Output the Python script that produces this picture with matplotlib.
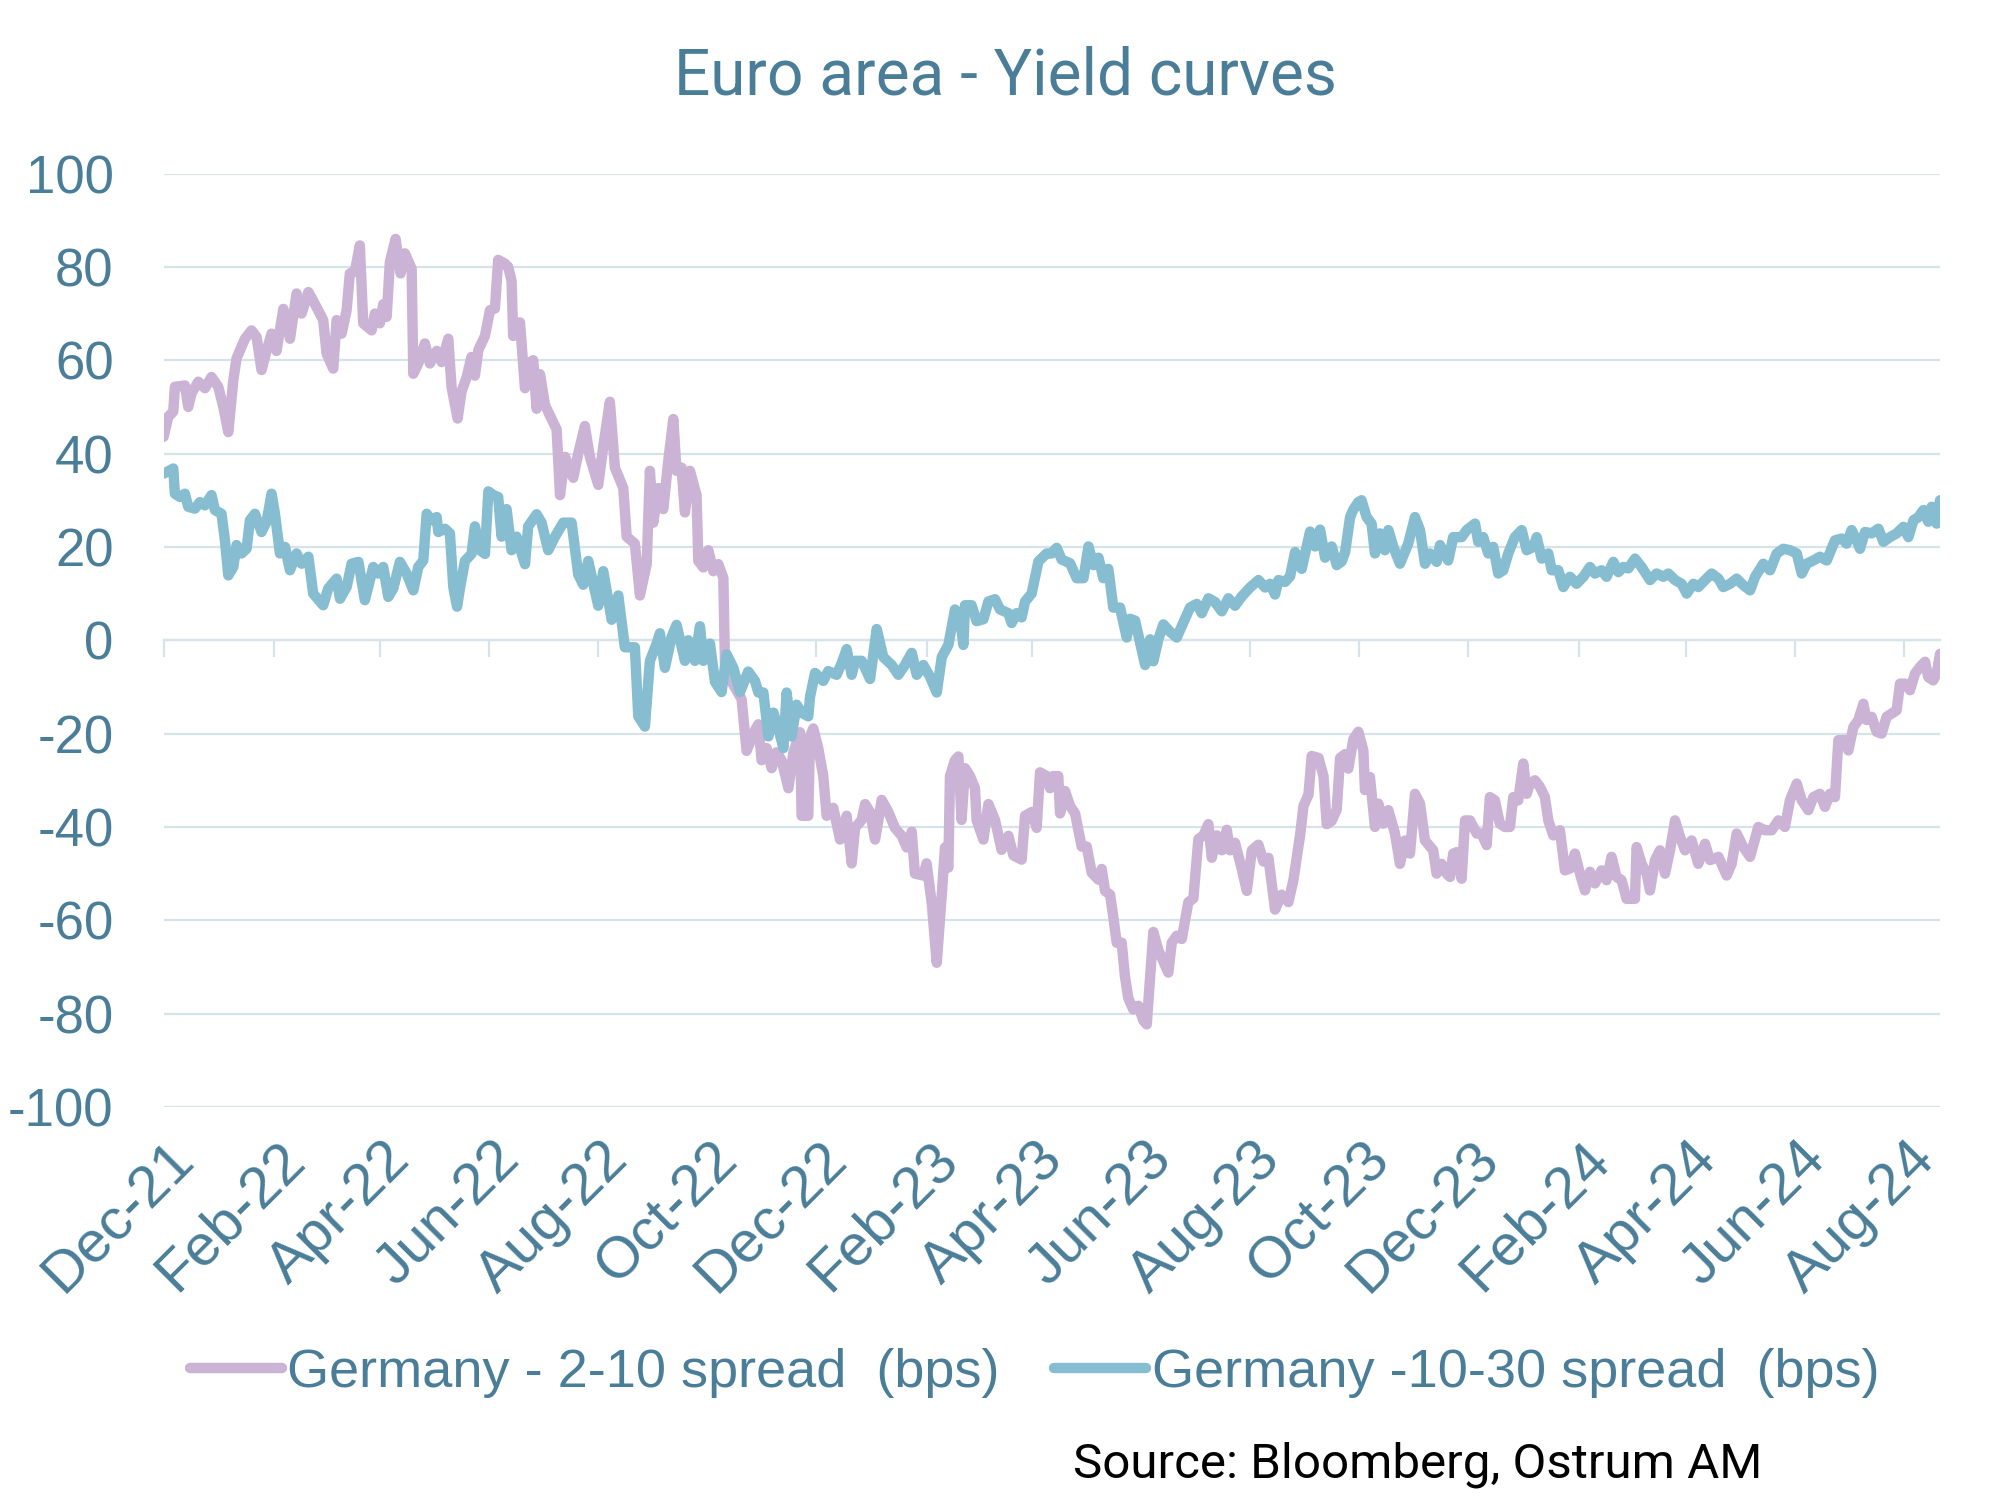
import matplotlib
matplotlib.use('Agg')
from matplotlib import pyplot as plt
from matplotlib.transforms import ScaledTranslation
import matplotlib.dates as mdates
import pandas as pd

plt.rcParams['font.family'] = ['Liberation Sans', 'DejaVu Sans']
plt.rcParams['axes.unicode_minus'] = False

#############################
## DATA
#############################
start_date = pd.Timestamp('2021-12-01')
last_day = 994

# Germany 2-10 spread (bps), x = days since 1 Dec 2021
day_210 = [0, 2.6, 5.4, 6.3, 11.9, 13.8, 15.6, 19.4, 23.1, 26.8, 30.6, 33.4, 36.2, 39, 40.8, 45.5,
           49.2, 52, 54.8, 57.6, 60.4, 63.2, 67, 70.7, 74.4, 77.2, 81, 84.7, 89.3, 91.2, 94.9, 96.8,
           99.6, 102.4, 104.2, 107, 109.8, 111.7, 116.4, 118.2, 121, 122.9, 124.8, 126.6, 129.8,
           132.6, 135, 138.8, 139.7, 142.5, 146.2, 149, 152.8, 155.6, 159.3, 161.1, 164.5, 166.7,
           169.5, 172.3, 174.2, 176.1, 179.8, 182.6, 185.4, 187.2, 191, 192.8, 194.7, 195.6, 199.4,
           202.2, 204, 206.8, 208.7, 210.6, 213.4, 217.1, 219.9, 221.8, 224.6, 229.2, 232, 235.7,
           238.5, 243.2, 246, 249.7, 252.5, 257.2, 259.1, 263.7, 266.5, 270.3, 272.1, 274, 276.8,
           279.6, 282.4, 285.2, 287, 289.8, 291.7, 294.5, 298.2, 299.2, 302, 304.8, 307.6, 310.4,
           313.2, 314.1, 317.8, 323.4, 326.2, 330.9, 332.8, 334.6, 337.4, 340.2, 343, 345.8, 349.6,
           352.4, 356.1, 357, 360.7, 361.7, 363.5, 366.3, 369.1, 371, 374.7, 378.5, 382.2, 385,
           386.9, 390.6, 392.5, 395.3, 398.1, 401.8, 405.5, 409.2, 413, 415.8, 418.6, 420.4, 425.1,
           426.9, 429.8, 432.6, 435.4, 437.2, 439.1, 440, 442.8, 444.7, 446.5, 448.4, 451.2, 454,
           454.9, 458.7, 461.5, 465.2, 468.9, 472.7, 475.5, 480.1, 482, 485.7, 488.5, 490.4, 494.1,
           496, 497.8, 500.6, 501.6, 504.4, 507.2, 510, 513.7, 516.5, 519.3, 523.1, 524.9, 526.8,
           529.6, 531.4, 533.3, 536.1, 537.9, 539.8, 542.6, 545.4, 548.2, 550.1, 551.9, 553.8,
           556.6, 559.4, 562.2, 564.1, 566.9, 569.7, 573.4, 576.2, 579, 581.8, 584.6, 586.5, 589.3,
           592.1, 594.9, 596.7, 599.5, 603.3, 606.1, 608.9, 612.6, 615.4, 618.2, 621.9, 625.6,
           629.4, 632.2, 635.9, 637.8, 640.6, 642.4, 646.2, 649, 650.8, 653.6, 656.4, 658.3, 661.1,
           662.9, 665.7, 668.5, 671.3, 672.2, 675, 677.8, 679.7, 682.5, 685.3, 689, 691.8, 694.6,
           697.4, 700.2, 703, 705.8, 710.4, 712.3, 715.1, 717.9, 719.8, 721.6, 723.5, 726.3, 728.2,
           731, 734.7, 737.5, 740.3, 742.1, 744.9, 747.7, 750.5, 753.3, 755.2, 758, 760.8, 762.7,
           764.5, 767.3, 770.1, 772.9, 774.8, 777.6, 781.3, 784.1, 786.9, 789.7, 792.5, 795.3,
           798.1, 800.9, 804.6, 807.4, 810.2, 813, 815.8, 818.6, 823.3, 824.2, 827, 829.8, 831.7,
           834.5, 837.3, 840.1, 842.9, 845.7, 848.5, 851.3, 855, 858.7, 862.5, 865.3, 870, 874.6,
           877.4, 880.2, 883.9, 887.7, 892.3, 896, 899.8, 903.5, 907.2, 910, 913.8, 916.6, 920.3,
           923.1, 926.8, 929.6, 932.4, 935.2, 937.1, 940.8, 942.7, 945.5, 948.3, 951.1, 952.9,
           955.7, 958.5, 961.3, 964.1, 966.9, 969.7, 971.6, 974.4, 977.2, 980, 982.8, 985.6, 987.4,
           990.2, 992.1, 994]
bps_210 = [43.6, 47.9, 49, 54.3, 54.6, 50, 52.9, 55.4, 54, 56.4, 54.3, 50, 44.6, 55.7, 60.4, 64.6,
           66.4, 65, 57.9, 62, 65.7, 62, 71, 64.6, 74.3, 70, 74.6, 72, 68.6, 61.4, 58.2, 68.6,
           65.7, 70.7, 78.6, 79, 84.6, 67.9, 66.4, 70, 67.9, 72, 69.3, 81, 86,
           78.6, 82.9, 79.6, 57.1, 59.3, 63.6, 59.3, 62, 59.6, 64.6, 54.3, 47.5, 53.3,
           56.3, 60.7, 56.7, 62.2, 65.2, 70.7, 71.1, 81.5, 80.7, 80, 77, 65.2, 68.1,
           54, 59.3, 60, 49.6, 57, 50.4, 47.4, 45.2, 31.1, 39.3, 34.8, 40, 45.9,
           39.3, 33.3, 41.5, 51.1, 37, 32.6, 22.2, 20.7, 9.6, 16.3, 36.3, 25.2, 32.6,
           28.1, 38.5, 47.4, 36.3, 37, 27.4, 36.3, 31.1, 17, 15.6, 19.3, 14.8, 16.3,
           13.3, -5.2, -8.9, -12.6, -23.7, -19.3, -18, -25.7, -23.1, -27.4, -24, -25.7, -31.7,
           -24, -19.7, -37.6, -37.6, -20.6, -18.9, -23.1, -29.1, -37.6, -35.9, -42.7, -37.6, -47.8,
           -40.2, -38.5, -35.1, -36.8, -42.7, -34.2, -36.8, -40.2, -41.9, -44.4, -41, -50, -50.4,
           -47.8, -56.3, -69.1, -54.6, -44.4, -48.7, -29.1, -25.7, -24.9, -38.5, -27.4, -29.1, -31.7,
           -38.5, -42.7, -35.1, -38.5, -44.9, -41.9, -46.1, -47, -37.6, -36.8, -40.2, -28.3, -29.1,
           -31.7, -29.1, -29.1, -37.1, -32.3, -35.5, -37.1, -44.2, -44.2, -49.8, -51.3, -49, -53.7,
           -54.5, -59.3, -64.8, -64.8, -72, -76.7, -79.1, -78.3, -81.5, -82.3, -72.8, -62.5,
           -66.4, -68.8, -71.2, -64.8, -63.3, -64, -56.1, -55.3, -42.6, -41.8, -39.4, -46.6, -41.8,
           -45, -40.6, -45, -43.4, -49, -53.7, -45, -43.8, -47.4, -46.6, -57.7, -54.5,
           -56.1, -51.3, -41.8, -35.5, -33.1, -24.8, -25.2, -29.1, -39.4, -38.7, -36.3, -25.2, -24.4,
           -27.5, -21.2, -19.6, -23.6, -32.1, -29.3, -40, -35, -39.3, -36.4, -41.4, -47.9, -42.9,
           -45.7, -32.9, -35, -42.9, -45, -50, -47.9, -50, -50.7, -45.7, -45.4, -51.1, -38.6,
           -38.6, -41.4, -41.4, -43.9, -33.6, -34.3, -39.3, -40, -40, -33.6, -34.3, -26.4, -32.9,
           -30.7, -30, -31.4, -33.6, -38.6, -41.8, -40.7, -49.3, -48.9, -45.7, -50, -53.6,
           -49.6, -52.1, -49.3, -51.4, -46.4, -50.7, -51.4, -55.4, -55.4, -44.3, -47.9, -50, -53.6,
           -47.1, -45, -50, -45, -38.6, -42.1, -45, -42.9, -47.9, -43.6, -47.1, -46.4, -50.4,
           -47.9, -41.4, -44.3, -46.4, -40, -40.7, -40.7, -38.6, -40, -34.3, -30.7, -34.3, -36.4,
           -33.6, -32.9, -35.7, -32.9, -33.6, -21.4, -21.4, -23.6, -18.6, -17.1, -13.6, -17.1,
           -16.4, -19.6, -20, -16.4, -15.7, -15, -9.3, -9.3, -10.7, -7.1, -5.7, -4.6, -7.9,
           -8.6, -7.1, -2.9]

# Germany 10-30 spread (bps), x = days since 1 Dec 2021
day_1030 = [0, 5.4, 6.3, 9.1, 11.9, 13.8, 17.5, 20.3, 23.1, 26.8, 28.7, 32.4, 34.3, 36.2, 39, 40.8,
            43.6, 46.4, 48.3, 51.1, 54.8, 57.6, 60.4, 62.3, 65.1, 67.9, 70.7, 74.4, 77.2, 81, 83.7,
            89.3, 92.1, 96.8, 98.7, 102.4, 105.2, 109, 112.6, 117.3, 120.1, 122.9, 125.7, 128.5,
            132.2, 136, 139.7, 142.5, 145.3, 147.2, 150, 152.8, 153.7, 157.4, 160.2, 162.1, 164.2,
            165.8, 168.6, 172.3, 174.2, 177, 179.8, 181.7, 184.5, 187.2, 189.1, 191.9, 194.7, 197.5,
            202.2, 204, 208.7, 211.5, 215.2, 219, 223.6, 228.3, 232, 234.8, 237.6, 243.2, 246,
            250.7, 254.4, 258.1, 263.7, 265.6, 269.3, 272.1, 275.9, 277.7, 280.5, 284.2, 287, 291.7,
            293.6, 297.3, 300.1, 302, 305.7, 308.5, 312.2, 315, 318.8, 322.5, 327.1, 330.9, 332.8,
            335.6, 338.4, 341.2, 344, 346.8, 348.6, 351.4, 354.2, 357, 360.7, 361.7, 364.5, 369.1,
            371.9, 376.6, 379.4, 382.2, 385, 386.9, 390.6, 395.3, 399, 402.7, 407.4, 411.1, 414.8,
            418.6, 421.4, 425.1, 428.8, 432.6, 435.4, 439.1, 442.8, 445.6, 447.5, 448.4, 452.1,
            454.9, 458.7, 461.5, 465.2, 468, 472.7, 474.5, 477.3, 480.1, 482, 485.7, 489.5, 494.1,
            496.9, 499.7, 502.5, 507.2, 510.9, 514.7, 517.5, 520.3, 523.1, 525.8, 528.6, 531.4,
            535.2, 537, 538.9, 540.8, 543.6, 546.4, 549.2, 552, 553.8, 556.6, 559.4, 563.2, 566.9,
            570.6, 574.3, 578.1, 580.9, 584.6, 588.3, 592.1, 595.8, 599.5, 603.3, 607.9, 612.6,
            616.3, 619.1, 621.9, 623.8, 627.5, 630.3, 633.1, 636.8, 641.5, 644.3, 647.1, 649.9,
            653.6, 656.4, 659.2, 661.1, 663.9, 665.7, 668.5, 670.3, 673.1, 675.9, 677.8, 680.6,
            683.4, 685.3, 688.1, 691.8, 696.4, 700.2, 703, 705.8, 708.6, 712.3, 714.2, 718.8, 721.6,
            726.3, 729.1, 733.8, 735.6, 738.4, 741.2, 744, 746.8, 749.6, 752.4, 756.1, 759.9, 762.7,
            766.4, 768.3, 771.1, 774.8, 776.7, 780.4, 783.2, 786.9, 790.6, 794.4, 798.1, 800.9,
            804.6, 807.4, 811.2, 814, 816.8, 819.6, 823.3, 827, 831.7, 835.4, 839.2, 842, 845.7,
            849.4, 852.2, 856, 858.7, 862.5, 866.2, 870, 872.7, 876.5, 880.2, 883.9, 887.7, 890.5,
            895.1, 898.9, 902.6, 906.3, 910, 913.8, 916.6, 919.4, 923.1, 926.8, 930.6, 935.2, 939,
            941.7, 944.5, 947.3, 949.2, 952, 955.7, 959.5, 962.3, 966, 969.7, 973.5, 976.3, 979.1,
            981.9, 984.7, 987.4, 989.3, 992.1, 994]
bps_1030 = [35.7, 36.8, 31.4, 30.7, 31.4, 28.6, 28.2, 29.6, 28.9, 31.1, 27.9, 27.1, 21.4, 13.9, 15.7, 20.4,
            18.6, 19.6, 25.7, 27.1, 23.2, 25.4, 31.4, 27.1, 18.6, 20, 15, 18.6, 16.4, 17.9, 10,
            7.5, 11.1, 13.2, 8.9, 11.4, 16.4, 16.8, 8.6, 15.7, 14.3, 15.7, 9.3, 11.1,
            16.8, 14.3, 10.7, 15.7, 17.1, 27.1, 25.7, 26.4, 23.2, 23.9, 22.9, 11.4, 7.2,
            11.1, 17, 18.5, 24.4, 19.3, 18.5, 31.9, 31.1, 30.7, 22.2, 28.1, 19.3, 22.2,
            16.3, 24.4, 27, 25.2, 19.3, 22.2, 25.2, 25.2, 14.1, 11.9, 17, 7.4, 14.8,
            4.4, 9.6, -1.5, -1.5, -16.3, -18.5, -4.4, -0.7, 1.5, -5.9, 0.7, 3.3, -4.4,
            0, -4.4, 3, -4.4, -0.7, -8.9, -11.1, -3, -5.9, -11.1, -6.7, -8.7, -11.2,
            -11.2, -20.6, -15.5, -18.9, -23.1, -11.2, -20.6, -13.8, -15.5, -16.3, -12.1, -7, -8.7,
            -6.6, -7.4, -4.9, -1.9, -7.4, -4.4, -4.4, -8.3, 2.4, -3.6, -5.3, -7.4, -5.3,
            -2.7, -7.4, -5.3, -7.8, -11.2, -3.6, -1, 6.6, 4.9, -1, 7.5, 7.5,
            4.1, 4.5, 8.3, 8.8, 6.6, 5.8, 3.7, 5.8, 4.9, 8.3, 10, 16.9, 18.6,
            18.6, 19.8, 17.3, 16.5, 13.3, 13.3, 20.1, 16.1, 17.7, 13.3, 15.3, 7,
            7, 3.8, 0.6, 4.6, 4.2, -0.6, -5.3, 0.2, -4.5, 0.2, 3.4, 1.8, 0.6,
            3.8, 7, 7.8, 5.8, 9, 8.2, 6.2, 9, 7.4, 9.4, 11.3, 12.9,
            11.3, 12.1, 9.8, 12.9, 12.5, 13.7, 18.9, 15.3, 23.3, 20.1, 23.7, 17.7,
            20.1, 16.1, 16.9, 18.9, 26.4, 28, 29.6, 30, 26.4, 25, 18.6, 22.9,
            19.3, 23.6, 20, 16.4, 20.7, 26.4, 23.6, 16.4, 18.6, 16.8, 20.4, 17.1, 22.1,
            22.1, 23.6, 25, 21.1, 22.1, 18.6, 20, 14.3, 15, 18.6, 22.1, 23.6, 19.3,
            20, 22.1, 17.5, 18.6, 15, 15, 11.4, 13.6, 12.1, 13.6, 15.7, 14.3,
            15, 13.6, 16.8, 14.6, 15.7, 15.4, 17.5, 15.7, 12.9, 14.3, 13.6, 14.3, 12.9,
            12.1, 10, 12.1, 11.4, 12.9, 14.3, 13.2, 11.4, 12.1, 13.2, 11.8, 10.7, 13.6,
            16.4, 15, 18.6, 19.6, 19.3, 18.6, 14.3, 16.4, 17.1, 17.9, 17.1, 21.4, 21.8,
            20.7, 23.6, 21.4, 19.6, 23.2, 22.9, 23.9, 21.1, 22.1, 22.9, 24.3, 22.1, 25.7,
            26.4, 27.9, 25.4, 28.6, 25, 30]

x_labels = ['Dec-21', 'Feb-22', 'Apr-22', 'Jun-22', 'Aug-22', 'Oct-22', 'Dec-22', 'Feb-23', 'Apr-23',
            'Jun-23', 'Aug-23', 'Oct-23', 'Dec-23', 'Feb-24', 'Apr-24', 'Jun-24', 'Aug-24']
y_ticks = [-100, -80, -60, -40, -20, 0, 20, 40, 60, 80, 100]
label_210 = 'Germany - 2-10 spread  (bps)'
label_1030 = 'Germany -10-30 spread  (bps)'

#############################
## STYLE
#############################
text_col = '#4a7d98'
grid_col = '#d6e4ea'
pink = '#cbb3d6'
blue = '#86bdd0'
lw = 7.5

x_210 = start_date + pd.to_timedelta(day_210, unit='D')
x_1030 = start_date + pd.to_timedelta(day_1030, unit='D')
tick_dates = pd.to_datetime(x_labels, format='%b-%y')

fig = plt.figure(figsize=(20.1, 15.09), dpi=100)
ax = fig.add_axes([0.0814, 0.2664, 0.8838, 0.6186])

ax.plot(x_210, bps_210, color=pink, lw=lw, solid_joinstyle='round', solid_capstyle='round', label=label_210)
ax.plot(x_1030, bps_1030, color=blue, lw=lw, solid_joinstyle='round', solid_capstyle='round', label=label_1030)

ax.set_ylim(-100, 100)
ax.set_yticks(y_ticks)
ax.set_xlim(start_date, start_date + pd.Timedelta(days=last_day))
ax.grid(axis='y', color=grid_col, lw=1.6)
ax.set_axisbelow(True)
for s in ax.spines.values():
    s.set_visible(False)

ax.tick_params(axis='y', length=0, pad=36, labelsize=38, labelcolor=text_col)
ax.set_xticks(tick_dates)
ax.set_xticklabels(x_labels, rotation=45, ha='right', va='top', rotation_mode='anchor',
                   fontsize=42, color=text_col)
ax.tick_params(axis='x', length=0, pad=18)
shift = ScaledTranslation(0.03, 0, fig.dpi_scale_trans)
for lbl in ax.get_xticklabels():
    lbl.set_transform(lbl.get_transform() + shift)

# axis line with tick marks at y = 0
zero_ax = ax.secondary_xaxis(0.5)
zero_ax.set_xticks(mdates.date2num(tick_dates))
zero_ax.set_xticklabels([])
zero_ax.tick_params(direction='in', length=12, width=1.6, color=grid_col)
for s in zero_ax.spines.values():
    s.set_color(grid_col)
    s.set_linewidth(1.6)

fig.text(0.5, 0.949, 'Euro area - Yield curves', ha='center', va='center',
         fontsize=46, color=text_col, family='Roboto')

fig.legend(loc='center', bbox_to_anchor=(0.5147, 0.0901), ncol=2, frameon=False,
           fontsize=39, handlelength=1.7, handletextpad=0.1, columnspacing=1.0,
           labelcolor=text_col)

fig.text(0.534, 0.0292, 'Source: Bloomberg, Ostrum AM', ha='left', va='center',
         fontsize=35.5, color='black', family='Roboto')

fig.savefig('out.png', dpi=100)
